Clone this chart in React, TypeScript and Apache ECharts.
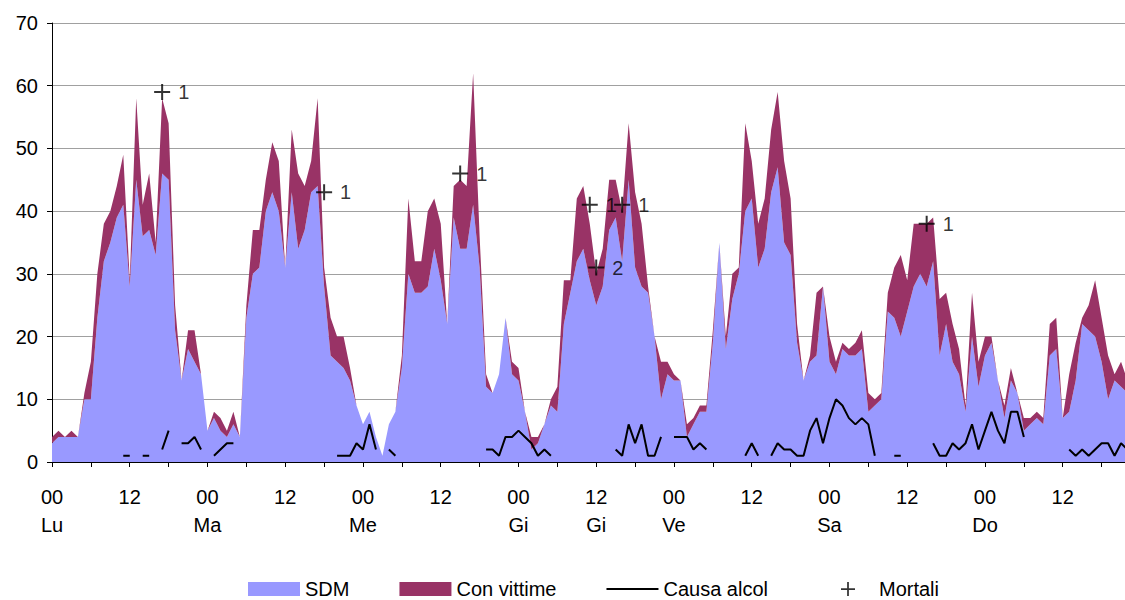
import React, { useEffect, useRef } from "react";
import * as echarts from "echarts";

// 168 hourly categories (Mon 00 .. Sun 23)
const categories: string[] = Array.from({ length: 168 }, (_, i) => String(i));

// labels shown every 12 hours
const tickLabels = ["00", "12", "00", "12", "00", "12", "00", "12", "00", "12", "00", "12", "00", "12"];
const dayLabels = ["Lu", "", "Ma", "", "Me", "", "Gi", "Gi", "Ve", "", "Sa", "", "Do", ""];

// SDM (bottom area)
const sdm = [
  3, 4, 4, 4, 4, 10, 10, 23, 32, 35, 39, 41, 28, 45, 36, 37, 33, 46, 45, 21, 13, 18, 16, 14,
  5, 7, 5, 4, 6, 4, 23, 30, 31, 40, 43, 40, 31, 43, 34, 37, 43, 44, 28, 17, 16, 15, 13, 9,
  6, 8, 4, 1, 6, 8, 15, 30, 27, 27, 28, 34, 29, 22, 39, 34, 34, 41, 31, 12, 11, 14, 23, 14,
  13, 8, 2, 3, 6, 9, 8, 22, 27, 32, 34, 29, 25, 28, 37, 39, 32, 45, 31, 28, 27, 20, 10, 14,
  13, 13, 4, 6, 8, 8, 19, 35, 18, 26, 30, 40, 42, 31, 34, 43, 47, 35, 33, 19, 13, 16, 17, 28,
  16, 14, 18, 17, 17, 18, 8, 9, 10, 24, 23, 20, 24, 28, 30, 28, 32, 17, 22, 16, 14, 8, 20, 12,
  17, 19, 13, 7, 13, 11, 5, 6, 7, 6, 17, 18, 7, 8, 13, 22, 21, 20, 16, 10, 13, 12, 11, 10,
];

// Con vittime (stacked on top of SDM)
const conVittime = [
  1, 1, 0, 1, 0, 1, 6, 7, 6, 5, 5, 8, 1, 13, 5, 9, 2, 12, 9, 4, 0, 3, 5, 0,
  0, 1, 2, 1, 2, 0, 2, 7, 6, 5, 8, 8, 0, 10, 12, 7, 5, 14, 3, 6, 4, 5, 2, 0,
  0, 0, 0, 0, 0, 0, 2, 12, 5, 5, 12, 8, 9, 0, 5, 11, 10, 21, 5, 2, 0, 0, 0, 2,
  2, 0, 2, 1, 0, 1, 4, 7, 2, 10, 10, 9, 5, 6, 8, 6, 8, 9, 12, 10, 1, 0, 6, 2,
  1, 0, 2, 1, 1, 1, 2, 0, 2, 4, 1, 14, 6, 7, 8, 10, 12, 13, 9, 3, 0, 1, 10, 0,
  4, 2, 1, 1, 2, 3, 3, 1, 1, 3, 8, 13, 5, 10, 8, 10, 7, 9, 5, 6, 4, 1, 7, 4,
  3, 1, 0, 2, 2, 0, 2, 1, 1, 1, 5, 5, 0, 6, 6, 1, 4, 9, 7, 7, 1, 4, 2, 2,
];

// Causa alcol (gaps = no data)
const N = null;
const causaAlcol = [
  N, N, N, N, N, N, N, N, N, N, N, 1, 1, N, 1, 1, N, 2, 5, N, 3, 3, 4, 2,
  N, 1, 2, 3, 3, N, N, N, N, N, N, N, N, N, N, N, N, N, N, N, 1, 1, 1, 3,
  2, 6, 2, N, 2, 1, N, N, N, N, N, N, N, N, N, N, N, N, N, 2, 2, 1, 4, 4,
  5, 4, 3, 1, 2, 1, N, N, N, N, N, N, N, N, N, 2, 1, 6, 3, 6, 1, 1, 4, N,
  4, 4, 4, 2, 3, 2, N, N, N, N, N, 1, 3, 1, N, 1, 3, 2, 2, 1, 1, 5, 7, 3,
  7, 10, 9, 7, 6, 7, 6, 1, N, N, 1, 1, N, N, N, N, 3, 1, 1, 3, 2, 3, 6, 2,
  5, 8, 5, 3, 8, 8, 4, N, N, N, N, N, N, 2, 1, 2, 1, 2, 3, 3, 1, 3, 2, 2,
];

// Mortali: hour index, plotted height, number of deaths
const mortaliHour = [17, 42, 63, 83, 84, 88, 135];
const mortaliY = [59, 43, 46, 41, 31, 41, 38];
const mortaliCount = [1, 1, 1, 1, 2, 1, 1];

const FONT = "'Liberation Sans', Arial, sans-serif";
const PLUS = "path://M7,0H9V7H16V9H9V16H7V9H0V7H7Z";
const DASH = "path://M0,0H52V2H0Z";

export default function App() {
  const ref = useRef<HTMLDivElement>(null);

  useEffect(() => {
    if (!ref.current) return;
    const chart = echarts.init(ref.current, undefined, { renderer: "svg" });
    const legendText = { fontFamily: FONT, fontSize: 20, color: "#000" };
    chart.setOption({
      animation: false,
      backgroundColor: "#ffffff",
      textStyle: { fontFamily: FONT, color: "#000" },
      grid: { left: 52, right: 0, top: 23, bottom: 138, containLabel: false },
      legend: [
        {
          left: 243,
          top: 574,
          itemWidth: 52,
          itemHeight: 14,
          itemGap: 50,
          textStyle: legendText,
          data: [
            { name: "SDM", icon: "rect" },
            { name: "Con vittime", icon: "rect" },
            { name: "Causa alcol", icon: DASH },
          ],
        },
        {
          left: 836,
          top: 574,
          itemWidth: 52,
          itemHeight: 14,
          symbolKeepAspect: true,
          textStyle: legendText,
          data: [{ name: "Mortali", icon: PLUS }],
        },
      ],
      xAxis: {
        type: "category",
        data: categories,
        boundaryGap: false,
        axisLine: { lineStyle: { color: "#000", width: 1 } },
        axisTick: { interval: 5, length: 5, lineStyle: { color: "#000" } },
        axisLabel: {
          interval: 11,
          fontSize: 20,
          lineHeight: 28,
          margin: 21,
          color: "#000",
          fontFamily: FONT,
          formatter: (_v: string, idx: number) => {
            const k = Math.round(idx / 12);
            const d = dayLabels[k];
            return d ? `${tickLabels[k]}\n${d}` : tickLabels[k];
          },
        },
        splitLine: { show: false },
      },
      yAxis: {
        type: "value",
        min: 0,
        max: 70,
        interval: 10,
        axisLine: { show: true, lineStyle: { color: "#000", width: 1 } },
        axisTick: { show: true, length: 5, lineStyle: { color: "#000" } },
        axisLabel: { fontSize: 20, margin: 14, color: "#000", fontFamily: FONT },
        splitLine: { lineStyle: { color: "#a0a0a0", width: 1 } },
      },
      series: [
        {
          name: "SDM",
          type: "line",
          stack: "tot",
          data: sdm,
          symbol: "none",
          color: "#9999FF",
          lineStyle: { width: 0 },
          areaStyle: { color: "#9999FF", opacity: 1 },
          z: 1,
        },
        {
          name: "Con vittime",
          type: "line",
          stack: "tot",
          data: conVittime,
          symbol: "none",
          color: "#993366",
          lineStyle: { width: 0 },
          areaStyle: { color: "#993366", opacity: 1 },
          z: 1,
        },
        {
          name: "Causa alcol",
          type: "line",
          data: causaAlcol,
          symbol: "none",
          connectNulls: false,
          color: "#000",
          lineStyle: { color: "#000", width: 2 },
          z: 3,
        },
        {
          name: "Mortali",
          type: "scatter",
          symbol: PLUS,
          symbolSize: 16,
          color: "#000",
          itemStyle: { color: "#000" },
          data: mortaliHour.map((h, i) => [h, mortaliY[i]]),
          label: {
            show: true,
            position: "right",
            distance: 8,
            fontSize: 20,
            color: "#000",
            fontFamily: FONT,
            formatter: (p: any) => String(mortaliCount[p.dataIndex]),
          },
          z: 4,
        },
      ],
    });
    return () => chart.dispose();
  }, []);

  return (
    <div
      style={{ position: "fixed", left: 0, top: 0, width: 1125, height: 600, overflow: "hidden", background: "#fff" }}
    >
      <div ref={ref} style={{ width: 1134, height: 600 }} />
    </div>
  );
}
